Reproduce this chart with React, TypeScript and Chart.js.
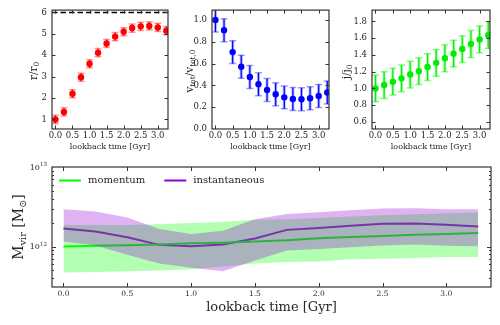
import { useEffect, useRef } from "react";
import { Chart, registerables } from "chart.js";
Chart.register(...registerables);

const FONT = "'DejaVu Serif', 'Liberation Serif', serif";
const TEXT = "#262626";
const FRAME = "#333333";

// ---------- data ----------
const LOOKBACK = [0, 0.25, 0.5, 0.75, 1.0, 1.25, 1.5, 1.75, 2.0, 2.25, 2.5, 2.75, 3.0, 3.25];

const R_RATIO = [1.0, 1.35, 2.2, 2.97, 3.6, 4.12, 4.55, 4.87, 5.1, 5.27, 5.35, 5.37, 5.3, 5.15];
const R_ERR = [0.19, 0.19, 0.19, 0.19, 0.19, 0.19, 0.19, 0.19, 0.19, 0.19, 0.19, 0.19, 0.19, 0.19];
const R_REF = 6;

const V_RATIO = [1.0, 0.905, 0.705, 0.57, 0.477, 0.41, 0.358, 0.318, 0.29, 0.275, 0.273, 0.282, 0.303, 0.335];
const V_ERR = [0.11, 0.105, 0.105, 0.105, 0.105, 0.105, 0.105, 0.105, 0.105, 0.105, 0.105, 0.105, 0.105, 0.105];

const J_RATIO = [1.0, 1.04, 1.08, 1.12, 1.165, 1.205, 1.255, 1.305, 1.36, 1.415, 1.47, 1.53, 1.585, 1.635];
const J_ERR = [0.16, 0.16, 0.16, 0.16, 0.16, 0.16, 0.16, 0.16, 0.16, 0.16, 0.16, 0.16, 0.16, 0.16];

const MOM_MID = [1.0e12, 1.02e12, 1.04e12, 1.06e12, 1.1e12, 1.12e12, 1.16e12, 1.2e12, 1.27e12, 1.32e12, 1.36e12, 1.41e12, 1.44e12, 1.48e12];
const MOM_HI = [1.86e12, 1.86e12, 1.86e12, 1.91e12, 1.97e12, 2.04e12, 2.17e12, 2.21e12, 2.28e12, 2.38e12, 2.48e12, 2.55e12, 2.63e12, 2.67e12];
const MOM_LO = [0.47e12, 0.48e12, 0.49e12, 0.5e12, 0.52e12, 0.56e12, 0.61e12, 0.64e12, 0.65e12, 0.69e12, 0.7e12, 0.72e12, 0.74e12, 0.74e12];

const INST_MID = [1.69e12, 1.55e12, 1.31e12, 1.05e12, 1.01e12, 1.06e12, 1.26e12, 1.62e12, 1.71e12, 1.82e12, 1.94e12, 1.95e12, 1.88e12, 1.79e12];
const INST_HI = [2.95e12, 2.75e12, 2.32e12, 1.66e12, 1.44e12, 1.58e12, 2.21e12, 2.57e12, 2.69e12, 2.86e12, 3.0e12, 3.02e12, 2.95e12, 2.95e12];
const INST_LO = [1.16e12, 1.03e12, 0.79e12, 0.61e12, 0.54e12, 0.49e12, 0.67e12, 0.89e12, 0.93e12, 0.98e12, 1.03e12, 1.06e12, 1.02e12, 1.01e12];

const SERIES_LABELS = ["momentum", "instantaneous"];

// ---------- ticks / ranges ----------
const TOP_X_TICKS = [0, 0.5, 1.0, 1.5, 2.0, 2.5, 3.0];
const TOP_X_MIN = -0.1;
const TOP_X_MAX = 3.3;
const R_TICKS = [1, 2, 3, 4, 5, 6];
const V_TICKS = [0, 0.2, 0.4, 0.6, 0.8, 1.0];
const J_TICKS = [0.6, 0.8, 1.0, 1.2, 1.4, 1.6, 1.8];
const MASS_X_TICKS = [0, 0.5, 1.0, 1.5, 2.0, 2.5, 3.0];
const MASS_MAJOR = [1e12, 1e13];
const MASS_MINOR = [4e11, 5e11, 6e11, 7e11, 8e11, 9e11, 2e12, 3e12, 4e12, 5e12, 6e12, 7e12, 8e12, 9e12];

type Seg = { t: string; s?: "sub" | "sup" };

function drawRich(
  ctx: CanvasRenderingContext2D,
  segs: Seg[],
  size: number,
  cx: number,
  cy: number,
  rotate: boolean,
  align: "center" | "right"
) {
  ctx.save();
  ctx.translate(cx, cy);
  if (rotate) ctx.rotate(-Math.PI / 2);
  const fontOf = (sg: Seg) => `${sg.s ? size * 0.7 : size}px ${FONT}`;
  const widths = segs.map((sg) => {
    ctx.font = fontOf(sg);
    return ctx.measureText(sg.t).width;
  });
  const total = widths.reduce((a, b) => a + b, 0);
  let x = align === "center" ? -total / 2 : -total;
  ctx.textBaseline = "alphabetic";
  ctx.textAlign = "left";
  ctx.fillStyle = TEXT;
  const base = size * 0.35;
  segs.forEach((sg, i) => {
    ctx.font = fontOf(sg);
    const dy = sg.s === "sub" ? size * 0.24 : sg.s === "sup" ? -size * 0.45 : 0;
    ctx.fillText(sg.t, x, base + dy);
    x += widths[i];
  });
  ctx.restore();
}

interface Deco {
  yTitle: Seg[];
  yTitleX: number;
  yTitleY: number;
  yTitleSize: number;
  xTitle: string;
  xTitleY: number;
  xTitleSize: number;
  tickLen: number;
  logLabels?: boolean;
  legend?: { label: string; color: string }[];
}

function makeDeco(d: Deco) {
  return {
    id: "deco",
    beforeDatasetsDraw(chart: any) {
      const ctx: CanvasRenderingContext2D = chart.ctx;
      const ca = chart.chartArea;
      const ys = chart.scales.y;
      ctx.save();
      ctx.beginPath();
      ctx.rect(ca.left, ca.top, ca.right - ca.left, ca.bottom - ca.top);
      ctx.clip();
      chart.data.datasets.forEach((ds: any, i: number) => {
        if (!ds.errorBars) return;
        const meta = chart.getDatasetMeta(i);
        meta.data.forEach((pt: any, j: number) => {
          const v = ds.data[j].y;
          const e = ds.errorBars[j];
          const yHi = ys.getPixelForValue(v + e);
          const yLo = ys.getPixelForValue(v - e);
          const x = pt.x;
          ctx.lineCap = "butt";
          ctx.strokeStyle = ds.errHalo;
          ctx.lineWidth = 3;
          ctx.beginPath();
          ctx.moveTo(x, yHi);
          ctx.lineTo(x, yLo);
          ctx.stroke();
          ctx.strokeStyle = ds.errColor;
          ctx.lineWidth = 1.2;
          ctx.beginPath();
          ctx.moveTo(x, yHi);
          ctx.lineTo(x, yLo);
          ctx.stroke();
          ctx.strokeStyle = ds.errCap;
          ctx.lineWidth = 1.5;
          ctx.beginPath();
          ctx.moveTo(x - 3.5, yHi);
          ctx.lineTo(x + 3.5, yHi);
          ctx.moveTo(x - 3.5, yLo);
          ctx.lineTo(x + 3.5, yLo);
          ctx.stroke();
        });
      });
      ctx.restore();
    },
    afterDraw(chart: any) {
      const ctx: CanvasRenderingContext2D = chart.ctx;
      const ca = chart.chartArea;
      const xs = chart.scales.x;
      const ys = chart.scales.y;
      ctx.save();
      ctx.strokeStyle = FRAME;
      ctx.lineWidth = 1;
      ctx.beginPath();
      xs.ticks.forEach((t: any) => {
        const px = Math.round(xs.getPixelForValue(t.value)) + 0.5;
        if (px < ca.left + 1 || px > ca.right - 1) return;
        ctx.moveTo(px, ca.bottom);
        ctx.lineTo(px, ca.bottom - d.tickLen);
        ctx.moveTo(px, ca.top);
        ctx.lineTo(px, ca.top + d.tickLen);
      });
      ys.ticks.forEach((t: any) => {
        const py = Math.round(ys.getPixelForValue(t.value)) + 0.5;
        if (py < ca.top + 1 || py > ca.bottom - 1) return;
        const len = d.logLabels && !t.major ? d.tickLen / 2 : d.tickLen;
        ctx.moveTo(ca.left, py);
        ctx.lineTo(ca.left + len, py);
        ctx.moveTo(ca.right, py);
        ctx.lineTo(ca.right - len, py);
      });
      ctx.stroke();
      ctx.lineWidth = 1.2;
      ctx.strokeRect(ca.left, ca.top, ca.right - ca.left, ca.bottom - ca.top);
      if (d.logLabels) {
        ys.ticks.forEach((t: any) => {
          if (!t.major) return;
          const py = ys.getPixelForValue(t.value);
          const exp = String(Math.round(Math.log10(t.value)));
          drawRich(ctx, [{ t: "10" }, { t: exp, s: "sup" }], 8, ca.left - 5, py, false, "right");
        });
      }
      drawRich(ctx, d.yTitle, d.yTitleSize, d.yTitleX, d.yTitleY, true, "center");
      ctx.fillStyle = TEXT;
      ctx.font = `${d.xTitleSize}px ${FONT}`;
      ctx.textAlign = "center";
      ctx.textBaseline = "middle";
      ctx.fillText(d.xTitle, (ca.left + ca.right) / 2, d.xTitleY);
      if (d.legend) {
        let x = ca.left + 7;
        const y = ca.top + 13.5;
        ctx.font = `10px ${FONT}`;
        ctx.textAlign = "left";
        d.legend.forEach((it) => {
          ctx.strokeStyle = it.color;
          ctx.lineWidth = 2;
          ctx.beginPath();
          ctx.moveTo(x, y);
          ctx.lineTo(x + 22, y);
          ctx.stroke();
          ctx.fillStyle = TEXT;
          ctx.fillText(it.label, x + 29, y);
          x += 29 + ctx.measureText(it.label).width + 19;
        });
      }
      ctx.restore();
    },
  };
}

function pts(arr: number[]) {
  return LOOKBACK.map((x, i) => ({ x, y: arr[i] }));
}

interface TopP {
  values: number[];
  errors: number[];
  color: string;
  halo: string;
  cap: string;
  yMin: number;
  yMax: number;
  yTicks: number[];
  yDigits: number;
  left: number;
  right: number;
  extra?: any[];
  deco: Deco;
}

function topConfig(p: TopP): any {
  return {
    type: "scatter",
    data: {
      datasets: [
        ...(p.extra || []),
        {
          data: pts(p.values),
          errorBars: p.errors,
          errColor: p.color,
          errHalo: p.halo,
          errCap: p.cap,
          pointRadius: 3.2,
          pointHoverRadius: 3.2,
          pointBackgroundColor: p.color,
          pointBorderWidth: 0,
          showLine: false,
        },
      ],
    },
    options: {
      responsive: false,
      animation: false,
      devicePixelRatio: 1,
      events: [],
      layout: { padding: { left: p.left - 52, top: 10, right: 500 - p.right, bottom: 0 } },
      plugins: { legend: { display: false }, tooltip: { enabled: false } },
      scales: {
        x: {
          type: "linear",
          min: TOP_X_MIN,
          max: TOP_X_MAX,
          afterBuildTicks: (s: any) => {
            s.ticks = TOP_X_TICKS.map((v) => ({ value: v }));
          },
          afterFit: (s: any) => {
            s.height = 196;
          },
          grid: { display: false, drawTicks: false },
          border: { display: false },
          ticks: {
            autoSkip: false,
            maxRotation: 0,
            padding: 2,
            color: TEXT,
            font: { family: FONT, size: 8.5 },
            callback: (v: any) => Number(v).toFixed(1),
          },
        },
        y: {
          type: "linear",
          min: p.yMin,
          max: p.yMax,
          afterBuildTicks: (s: any) => {
            s.ticks = p.yTicks.map((v) => ({ value: v }));
          },
          afterFit: (s: any) => {
            s.width = 52;
          },
          grid: { display: false, drawTicks: false },
          border: { display: false },
          ticks: {
            autoSkip: false,
            padding: 5,
            color: TEXT,
            font: { family: FONT, size: 8.5 },
            callback: (v: any) => Number(v).toFixed(p.yDigits),
          },
        },
      },
    },
    plugins: [makeDeco(p.deco)],
  };
}

function massConfig(): any {
  const band = { pointRadius: 0, pointHoverRadius: 0, borderWidth: 0, borderColor: "rgba(0,0,0,0)", tension: 0 };
  return {
    type: "line",
    data: {
      datasets: [
        { label: SERIES_LABELS[0], data: pts(MOM_MID), borderColor: "#00ff00", borderWidth: 2, pointRadius: 0, fill: false, order: 5 },
        { label: SERIES_LABELS[1], data: pts(INST_MID), borderColor: "#9400d3", borderWidth: 2, pointRadius: 0, fill: false, order: 5 },
        { ...band, data: pts(MOM_HI), backgroundColor: "rgba(0,255,0,0.3)", fill: "+1", order: 3 },
        { ...band, data: pts(MOM_LO), fill: false, order: 3 },
        { ...band, data: pts(INST_HI), backgroundColor: "rgba(148,0,211,0.3)", fill: "+1", order: 1 },
        { ...band, data: pts(INST_LO), fill: false, order: 1 },
      ],
    },
    options: {
      responsive: false,
      animation: false,
      devicePixelRatio: 1,
      events: [],
      layout: { padding: { left: 0, top: 167, right: 9, bottom: 0 } },
      plugins: {
        legend: { display: false },
        tooltip: { enabled: false },
        filler: { drawTime: "beforeDatasetDraw" },
      },
      scales: {
        x: {
          type: "linear",
          min: -0.09,
          max: 3.35,
          afterBuildTicks: (s: any) => {
            s.ticks = MASS_X_TICKS.map((v) => ({ value: v }));
          },
          afterFit: (s: any) => {
            s.height = 38;
          },
          grid: { display: false, drawTicks: false },
          border: { display: false },
          ticks: {
            autoSkip: false,
            maxRotation: 0,
            padding: 3,
            color: TEXT,
            font: { family: FONT, size: 7.5 },
            callback: (v: any) => Number(v).toFixed(1),
          },
        },
        y: {
          type: "logarithmic",
          min: 3.1e11,
          max: 1e13,
          afterBuildTicks: (s: any) => {
            s.ticks = [
              ...MASS_MINOR.map((v) => ({ value: v, major: false })),
              ...MASS_MAJOR.map((v) => ({ value: v, major: true })),
            ].sort((a, b) => a.value - b.value);
          },
          afterFit: (s: any) => {
            s.width = 52;
          },
          grid: { display: false, drawTicks: false },
          border: { display: false },
          ticks: { display: false, autoSkip: false },
        },
      },
    },
    plugins: [
      makeDeco({
        yTitle: [{ t: "M" }, { t: "vir", s: "sub" }, { t: " [M" }, { t: "⊙", s: "sub" }, { t: "]" }],
        yTitleX: 18,
        yTitleY: 227,
        yTitleSize: 14,
        xTitle: "lookback time [Gyr]",
        xTitleY: 308,
        xTitleSize: 13,
        tickLen: 4,
        logLabels: true,
        legend: [
          { label: SERIES_LABELS[0], color: "#00ff00" },
          { label: SERIES_LABELS[1], color: "#9400d3" },
        ],
      }),
    ],
  };
}

export default function App() {
  const r1 = useRef<HTMLCanvasElement>(null);
  const r2 = useRef<HTMLCanvasElement>(null);
  const r3 = useRef<HTMLCanvasElement>(null);
  const r4 = useRef<HTMLCanvasElement>(null);

  useEffect(() => {
    const cfgs = [
      topConfig({
        values: R_RATIO,
        errors: R_ERR,
        color: "#ff0000",
        halo: "rgba(255,0,0,0.25)",
        cap: "rgba(255,0,0,0.4)",
        yMin: 0.55,
        yMax: 6.11,
        yTicks: R_TICKS,
        yDigits: 0,
        left: 52,
        right: 168,
        extra: [
          {
            type: "line",
            data: [
              { x: TOP_X_MIN, y: R_REF },
              { x: TOP_X_MAX, y: R_REF },
            ],
            borderColor: "#000000",
            borderWidth: 1.5,
            borderDash: [5.5, 3],
            pointRadius: 0,
            showLine: true,
            fill: false,
          },
        ],
        deco: {
          yTitle: [{ t: "r/r" }, { t: "0", s: "sub" }],
          yTitleX: 33,
          yTitleY: 71,
          yTitleSize: 10.5,
          xTitle: "lookback time [Gyr]",
          xTitleY: 147,
          xTitleSize: 8,
          tickLen: 3.5,
        },
      }),
      topConfig({
        values: V_RATIO,
        errors: V_ERR,
        color: "#0000ff",
        halo: "rgba(0,0,255,0.3)",
        cap: "rgba(0,0,255,0.4)",
        yMin: 0,
        yMax: 1.09,
        yTicks: V_TICKS,
        yDigits: 1,
        left: 212,
        right: 329,
        deco: {
          yTitle: [{ t: "v" }, { t: "tot", s: "sub" }, { t: "/v" }, { t: "tot,0", s: "sub" }],
          yTitleX: 189,
          yTitleY: 71,
          yTitleSize: 10.5,
          xTitle: "lookback time [Gyr]",
          xTitleY: 147,
          xTitleSize: 8,
          tickLen: 3.5,
        },
      }),
      topConfig({
        values: J_RATIO,
        errors: J_ERR,
        color: "#00ee00",
        halo: "rgba(0,255,0,0.35)",
        cap: "rgba(0,255,0,0.5)",
        yMin: 0.515,
        yMax: 1.935,
        yTicks: J_TICKS,
        yDigits: 1,
        left: 372,
        right: 490,
        deco: {
          yTitle: [{ t: "j/j" }, { t: "0", s: "sub" }],
          yTitleX: 346,
          yTitleY: 72,
          yTitleSize: 10.5,
          xTitle: "lookback time [Gyr]",
          xTitleY: 147,
          xTitleSize: 8,
          tickLen: 3.5,
        },
      }),
      massConfig(),
    ];
    const refs = [r1, r2, r3, r4];
    const charts = cfgs.map((c, i) => new Chart(refs[i].current as HTMLCanvasElement, c));
    return () => charts.forEach((c) => c.destroy());
  }, []);

  const cs: any = { position: "absolute", left: 0, top: 0 };
  return (
    <div style={{ position: "absolute", left: 0, top: 0, width: 500, height: 325, background: "#ffffff" }}>
      <canvas ref={r1} width={500} height={325} style={cs} />
      <canvas ref={r2} width={500} height={325} style={cs} />
      <canvas ref={r3} width={500} height={325} style={cs} />
      <canvas ref={r4} width={500} height={325} style={cs} />
    </div>
  );
}
